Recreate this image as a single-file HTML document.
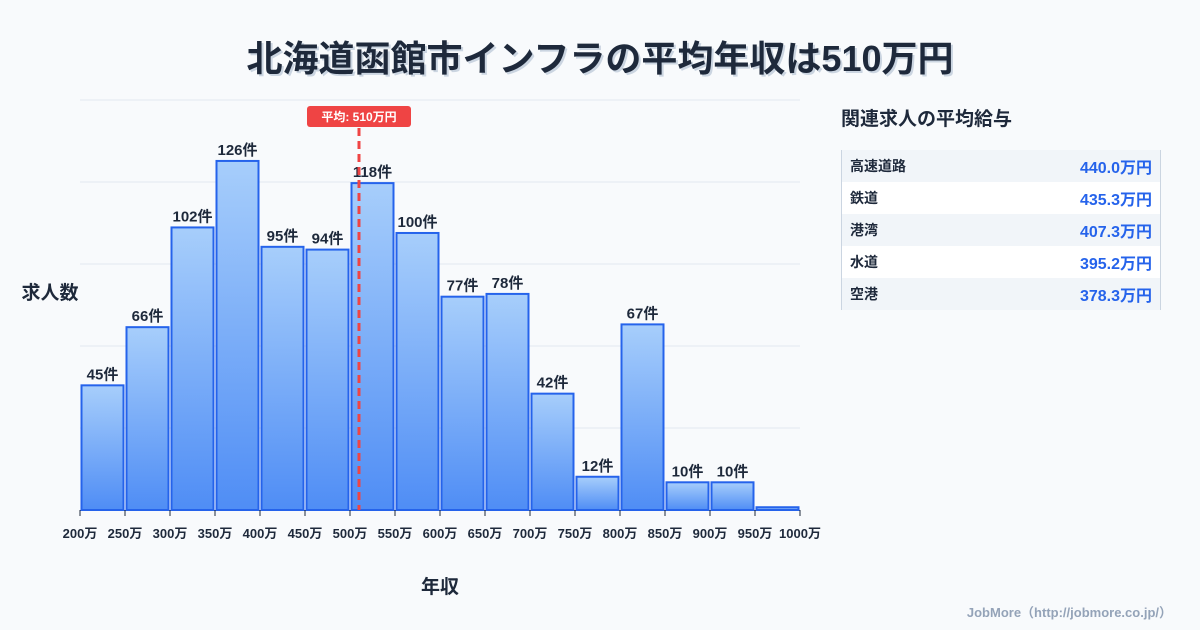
<!DOCTYPE html>
<html><head><meta charset="utf-8">
<style>
body{margin:0;width:1200px;height:630px;background:#f8fafc;font-family:"Liberation Sans","Noto Sans CJK JP",sans-serif;overflow:hidden;position:relative;color:#1e293b}
.title{position:absolute;top:30px;left:0;width:1200px;text-align:center;font-size:36px;font-weight:bold;color:#1e293b;text-shadow:2px 2px 0 #cbd5e1}
.side{position:absolute;left:841px;top:104px;font-size:19px;font-weight:bold}
table{position:absolute;left:841px;top:150px;width:320px;border-collapse:collapse;border-left:1px solid #cbd5e1;border-right:1px solid #cbd5e1}
td{height:32px;padding:0 8px;font-size:14px;font-weight:bold}
td.v{text-align:right;color:#2563eb;font-size:16px}
tr:nth-child(odd){background:#f1f5f9}tr:nth-child(even){background:#fff}
.foot{position:absolute;right:28px;top:602px;font-size:13px;color:#94a3b8;font-weight:bold}
</style></head><body>
<div class="title">北海道函館市インフラの平均年収は510万円</div>
<div class="side">関連求人の平均給与</div>
<table>
<tr><td>高速道路</td><td class="v">440.0万円</td></tr>
<tr><td>鉄道</td><td class="v">435.3万円</td></tr>
<tr><td>港湾</td><td class="v">407.3万円</td></tr>
<tr><td>水道</td><td class="v">395.2万円</td></tr>
<tr><td>空港</td><td class="v">378.3万円</td></tr>
</table>
<div class="foot">JobMore（http://jobmore.co.jp/）</div>
<svg id="chart" width="1200" height="630" style="position:absolute;left:0;top:0">
<defs><linearGradient id="g" x1="0" y1="0" x2="0" y2="1"><stop offset="0" stop-color="#a7cefb"/><stop offset="1" stop-color="#4f8df5"/></linearGradient></defs>
</svg>
<script>
const categories=["200万","250万","300万","350万","400万","450万","500万","550万","600万","650万","700万","750万","800万","850万","900万","950万","1000万"];
const counts=[45,66,102,126,95,94,118,100,77,78,42,12,67,10,10,1];
const meanValue=510;
const meanLabel="平均: 510万円";
const svg=document.getElementById('chart');
const NS='http://www.w3.org/2000/svg';
const x0=80,bw=45,base=510,yMax=148,plotH=410;
const xs=i=>x0+i*bw;
const ys=v=>base-v*plotH/yMax;
const xv=v=>x0+(v-200)/50*bw;
function mk(t,a){const e=document.createElementNS(NS,t);for(const k in a)e.setAttribute(k,a[k]);svg.appendChild(e);return e;}
for(let i=0;i<=5;i++){const g=mk('line',{x1:80,x2:800,y1:base-i*82,y2:base-i*82,stroke:'#e2e8f0','stroke-width':1});

}
counts.forEach((c,i)=>{
 const r=mk('rect',{x:xs(i)+1.5,y:ys(c),width:bw-3,height:base-ys(c),fill:'url(#g)',stroke:'#2563eb','stroke-width':2});
 
 
 if(c>=5){const t=mk('text',{x:xs(i)+bw/2,y:ys(c)-6,'text-anchor':'middle','font-size':15,'font-weight':'bold',fill:'#1e293b'});t.textContent=c+'件';
 
 }
});
categories.forEach((c,i)=>{
 const tk=mk('line',{x1:xs(i),x2:xs(i),y1:base,y2:base+6,stroke:'#1e293b','stroke-width':1});
 
 
 const t=mk('text',{x:xs(i),y:538,'text-anchor':'middle','font-size':13,'font-weight':'bold',fill:'#1e293b'});t.textContent=c;
 
 
});
const mx=xv(meanValue);
const ml=mk('line',{x1:mx,x2:mx,y1:128,y2:base,stroke:'#ef4444','stroke-width':3,'stroke-dasharray':'8,5'});


const mb=mk('rect',{x:mx-52,y:106,width:104,height:21,rx:3,fill:'#ef4444'});


const mt=mk('text',{x:mx,y:121,'text-anchor':'middle','font-size':12,'font-weight':'bold',fill:'#fff'});mt.textContent=meanLabel;


const yt=mk('text',{x:50,y:299,'text-anchor':'middle','font-size':19,'font-weight':'bold',fill:'#1e293b'});yt.textContent='求人数';


const xt=mk('text',{x:440,y:593,'text-anchor':'middle','font-size':19,'font-weight':'bold',fill:'#1e293b'});xt.textContent='年収';


</script>
</body></html>
